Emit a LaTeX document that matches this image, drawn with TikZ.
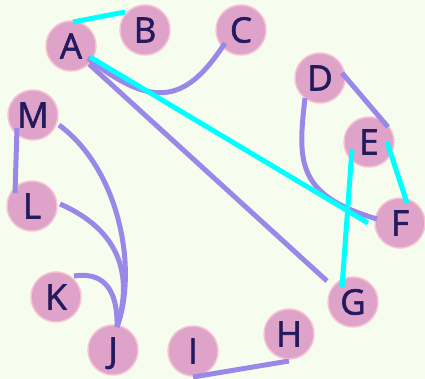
\documentclass[tikz,border=0pt]{standalone}
\usepackage{fontspec}
\newfontfamily\labfont{Open Sans}[FakeBold=1.6]
\usetikzlibrary{calc}
\definecolor{bg}{HTML}{F7FDEE}
\definecolor{nodefill}{HTML}{DFA3C9}
\definecolor{nodeborder}{HTML}{F5C3D4}
\definecolor{txt}{HTML}{241A5E}
\definecolor{purp}{HTML}{9A88E8}
\definecolor{cyanl}{HTML}{00FFFF}
\tikzset{
  vtx/.style={circle, fill=nodefill, draw=nodeborder, line width=1.5pt,
    minimum size=50pt, inner sep=0pt, text=txt,
    font=\labfont\fontsize{35}{35}\selectfont, text height=25pt, text depth=0pt},
  pedge/.style={draw=purp, line width=5pt},
  cedge/.style={draw=cyanl, line width=5pt}
}
\begin{document}
\begin{tikzpicture}[x=1pt,y=-1pt]
\fill[bg] (0,0) rectangle (425,379);
\useasboundingbox (0,0) rectangle (425,379);
\node[vtx] (A) at (71,46) {A};
\node[vtx] (B) at (145,30) {B};
\node[vtx] (C) at (241,30) {C};
\node[vtx] (D) at (320,78) {D};
\node[vtx] (E) at (369,142) {E};
\node[vtx] (F) at (400,223) {F};
\node[vtx] (G) at (353,302) {G};
\node[vtx] (H) at (289,334) {H};
\node[vtx] (I) at (193,351) {I};
\node[vtx] (J) at (113,350) {J};
\node[vtx] (K) at (56,297) {K};
\node[vtx] (L) at (32,206) {L};
\node[vtx] (M) at (33,115) {M};
% purple edges
\draw[pedge] ($(A)+(17,12)$) .. controls (155,112) and (188,100) .. ($(C)+(-16,13)$);
\draw[pedge] ($(A)+(18,18)$) -- ($(G)+(-26,-21)$);
\draw[pedge] ($(D)+(-15,20)$) .. controls (298,160) and (295,195) .. ($(F)+(-23,-4)$);
\draw[pedge] ($(D)+(22,-5)$) -- ($(E)+(19,-15)$);
\draw[pedge] ($(M)+(-16,13)$) -- ($(L)+(-17,-13)$);
\draw[pedge] ($(M)+(26,10)$) .. controls (120,170) and (138,270) .. ($(J)+(4,-23)$);
\draw[pedge] ($(L)+(28,-2)$) .. controls (115,228) and (135,270) .. ($(J)+(4,-23)$);
\draw[pedge] ($(K)+(18,-21)$) .. controls (100,272) and (118,285) .. ($(J)+(4,-23)$);
\draw[pedge] ($(H)+(0,27)$) -- ($(I)+(0,26)$);
% cyan edges
\draw[cedge] ($(A)+(2,-24)$) -- ($(B)+(-20,-18)$);
\draw[cedge] ($(A)+(19,11)$) -- ($(F)+(-32,0)$);
\draw[cedge] ($(E)+(18,0)$) -- ($(F)+(7,-20)$);
\draw[cedge] ($(E)+(-17,7)$) -- ($(G)+(-11,-15)$);
\end{tikzpicture}
\end{document}
